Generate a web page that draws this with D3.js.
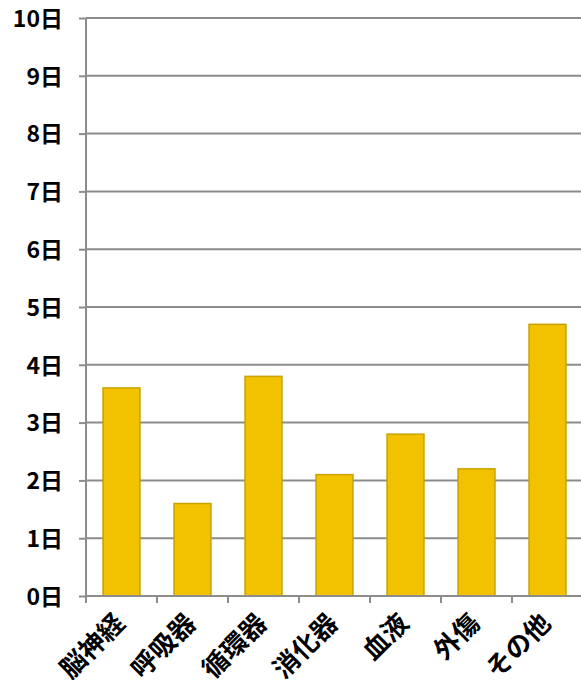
<!DOCTYPE html>
<html>
<head>
<meta charset="utf-8">
<script src="https://cdn.jsdelivr.net/npm/d3@7"></script>
<style>
  html, body { margin: 0; padding: 0; background: #fff; }
  svg { display: block; }
  text { font-family: "Noto Sans CJK JP", sans-serif; fill: #000; }
</style>
</head>
<body>
<svg id="chart" width="581" height="688"></svg>
<script>
// 診療科別の平均日数
const categories = ["脳神経", "呼吸器", "循環器", "消化器", "血液", "外傷", "その他"];
const days = [3.6, 1.6, 3.8, 2.1, 2.8, 2.2, 4.7];
const yTicks = [0, 1, 2, 3, 4, 5, 6, 7, 8, 9, 10];
const tickSuffix = "日";

const svg = d3.select("#chart");
const margin = { left: 86, right: -2, top: 18, bottom: 92 };
const W = 581, H = 688;

const x = d3.scaleBand()
  .domain(categories)
  .range([margin.left, W - margin.right])
  .paddingInner(0.48)
  .paddingOuter(0.24);

const y = d3.scaleLinear()
  .domain([0, 10])
  .range([H - margin.bottom, margin.top]);

const gridColor = "#8c8c8c";

// horizontal gridlines
svg.append("g")
  .selectAll("line")
  .data(yTicks)
  .join("line")
  .attr("x1", margin.left)
  .attr("x2", W)
  .attr("y1", d => y(d))
  .attr("y2", d => y(d))
  .attr("stroke", gridColor)
  .attr("stroke-width", 2);

// y axis
const yAxis = d3.axisLeft(y)
  .tickValues(yTicks)
  .tickSize(7)
  .tickPadding(16)
  .tickFormat(d => d + tickSuffix);

const gy = svg.append("g")
  .attr("transform", `translate(${margin.left},0)`)
  .call(yAxis);
gy.select(".domain").attr("stroke", gridColor).attr("stroke-width", 2)
  .attr("d", `M0,${y(10)}V${y(0)}`);
gy.selectAll(".tick line").attr("stroke", gridColor).attr("stroke-width", 2);
gy.selectAll(".tick text")
  .style("font-size", "23px")
  .style("font-weight", "bold")
  .attr("dy", "0.36em");

// bars
svg.append("g")
  .selectAll("rect")
  .data(categories)
  .join("rect")
  .attr("x", d => x(d))
  .attr("width", x.bandwidth())
  .attr("y", (d, i) => y(days[i]))
  .attr("height", (d, i) => y(0) - y(days[i]))
  .attr("fill", "#f2c200")
  .attr("stroke", "#c9a200")
  .attr("stroke-width", 1.5);

// x axis: boundary ticks between categories
const step = x.step();
const boundaries = d3.range(categories.length).map(i => margin.left + i * step);
const gx = svg.append("g");
gx.append("line")
  .attr("x1", margin.left).attr("x2", W)
  .attr("y1", y(0)).attr("y2", y(0))
  .attr("stroke", gridColor).attr("stroke-width", 2);
gx.selectAll("line.tk")
  .data(boundaries)
  .join("line")
  .attr("class", "tk")
  .attr("x1", d => d).attr("x2", d => d)
  .attr("y1", y(0)).attr("y2", y(0) + 7)
  .attr("stroke", gridColor).attr("stroke-width", 2);

// rotated category labels
gx.selectAll("text")
  .data(categories)
  .join("text")
  .attr("transform", d => `translate(${x(d) + x.bandwidth() / 2 - 9},${y(0) + 15}) rotate(-45)`)
  .attr("text-anchor", "end")
  .attr("dy", "0.75em")
  .style("font-size", "26px")
  .style("font-weight", "bold")
  .text(d => d);
</script>
</body>
</html>
